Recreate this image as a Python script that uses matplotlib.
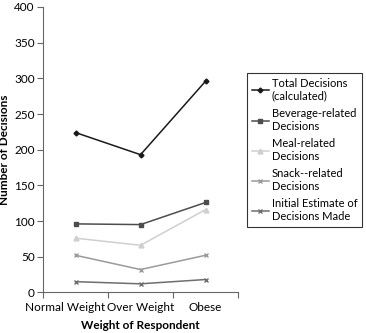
import numpy as np
import matplotlib.pyplot as plt
import matplotlib.transforms as mtransforms

categories = ["Normal Weight", "Over Weight", "Obese"]
total = [224, 193, 296]
beverage = [96, 95, 126]
meal = [76, 66, 116]
snack = [52, 32, 52]
initial = [15, 12, 18]

labels = ["Total Decisions\n(calculated)", "Beverage-related\nDecisions",
          "Meal-related\nDecisions", "Snack--related\nDecisions",
          "Initial Estimate of\nDecisions Made"]

plt.rcParams['font.family'] = ['Lato', 'DejaVu Sans']
plt.rcParams['font.size'] = 8.5

fig = plt.figure(figsize=(3.66, 3.33), dpi=100)
ax = fig.add_axes([0.1175, 0.122, 0.533, 0.857])

x = np.arange(len(categories))
styles = [
    dict(color='#1a1a1a', marker='D', ms=2.5),
    dict(color='#4d4d4d', marker='s', ms=3.5),
    dict(color='#cfcfcf', marker='^', ms=3.5),
    dict(color='#9a9a9a', marker='x', ms=3.5),
    dict(color='#6e6e6e', marker='x', ms=3.5),
]
for vals, lab, st in zip([total, beverage, meal, snack, initial], labels, styles):
    ax.plot(x, vals, lw=1.1, label=lab, markeredgewidth=1, **st)

ax.set_xlim(-0.5, 2.5)
ax.set_ylim(0, 400)
ax.set_yticks(range(0, 401, 50))
ax.set_xticks([-0.5, 0.5, 1.5, 2.5])
ax.set_xticklabels([])
ax.set_xticks(x, minor=True)
ax.set_xticklabels(categories, minor=True)
ax.tick_params(axis='x', which='minor', length=0, pad=7)
ax.tick_params(axis='x', which='major', length=4, color='#666666')
ax.tick_params(axis='y', length=4, color='#666666', pad=2)
# first label sits a bit left of its point in the original
lab0 = ax.get_xticklabels(minor=True)[0]
lab0.set_transform(lab0.get_transform() +
                   mtransforms.ScaledTranslation(-0.1, 0, fig.dpi_scale_trans))
for s in ['top', 'right']:
    ax.spines[s].set_visible(False)
for s in ['left', 'bottom']:
    ax.spines[s].set_color('#666666')

ax.set_ylabel('Number of Decisions', fontweight='bold')
ax.yaxis.set_label_coords(-0.17, 0.5)
ax.set_xlabel('Weight of Respondent', fontweight='bold', labelpad=5)

leg = ax.legend(loc='upper left', bbox_to_anchor=(1.045, 0.768), frameon=True,
                fancybox=False, edgecolor='black', handlelength=1.5,
                handletextpad=0.3, borderpad=0.45, labelspacing=0.6,
                borderaxespad=0, fontsize=8)
leg.get_frame().set_linewidth(0.8)
for t in leg.get_texts():
    t.set_linespacing(1.15)

fig.savefig('out.png', dpi=100)
